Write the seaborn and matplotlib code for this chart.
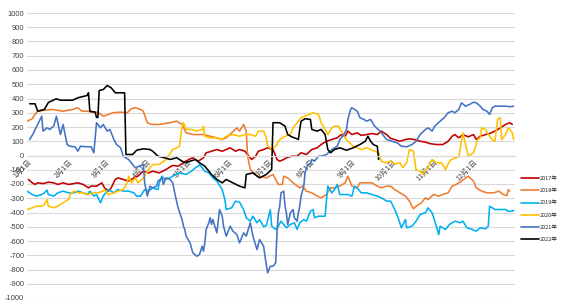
import numpy as np
import pandas as pd
import seaborn as sns
import matplotlib
matplotlib.use("Agg")
import matplotlib.pyplot as plt
from matplotlib.lines import Line2D

# ---------------- data (day of year, value) ----------------
days_2017 = [1,4,6,8,12,16,20,23,27,31,35,38,42,46,48,52,56,58,61,63,66,68,72,76,80,83,87,91,94,99,104,106,109,113,117,121,124,128,132,134,138,142,146,149,152,156,159,163,166,168,171,173,177,180,184,187,189,192,194,198,202,205,209,213,217,220,224,228,232,235,238,240,243,247,250,254,258,262,265,269,272,275,279,283,286,290,294,298,301,306,311,315,318,320,323,326,330,334,336,339,343,346,350,354,358,361,363]
vals_2017 = [-168,-192,-203,-192,-197,-187,-192,-203,-192,-203,-197,-192,-203,-227,-215,-215,-192,-227,-250,-227,-168,-157,-168,-180,-157,-145,-110,-122,-110,-122,-98,-86,-70,-75,-51,-28,-16,-40,-16,19,30,42,30,42,54,30,42,30,-5,-28,-5,30,42,54,42,-28,-40,-28,-16,-5,-5,19,7,42,54,77,100,112,124,147,135,171,147,159,141,147,154,147,171,147,120,112,100,112,117,112,100,94,84,77,77,100,135,147,124,147,131,147,112,135,147,154,171,194,218,230,218]

days_2018 = [0,4,6,8,13,19,27,34,38,41,45,48,53,57,61,64,70,75,78,81,85,87,90,93,99,107,112,116,119,124,132,137,142,146,149,153,157,159,162,164,165,167,172,174,179,184,188,191,192,195,199,204,206,209,213,217,220,224,227,230,234,238,240,243,247,249,254,258,262,265,269,272,275,279,283,286,289,291,295,298,300,304,308,311,315,318,321,325,328,330,334,336,340,344,349,353,356,359,360,361]
vals_2018 = [241,258,288,311,318,323,311,323,335,311,311,304,304,276,288,300,304,300,328,335,323,311,230,218,218,230,241,218,159,147,147,135,124,112,124,159,194,171,218,171,-5,-98,-145,-145,-157,-133,-203,-203,-145,-157,-192,-227,-215,-250,-262,-285,-297,-274,-227,-227,-215,-192,-145,-215,-227,-192,-192,-192,-215,-227,-215,-215,-239,-262,-285,-320,-374,-356,-332,-297,-309,-274,-285,-274,-262,-215,-203,-180,-157,-145,-180,-227,-250,-262,-262,-250,-274,-281,-239,-250]

days_2019 = [0,4,7,11,13,15,16,20,23,27,31,35,38,42,45,47,50,52,55,57,61,65,68,72,76,80,82,85,88,91,94,98,99,101,103,107,109,114,119,123,126,128,129,131,133,136,139,142,146,148,149,153,156,159,162,164,167,169,172,174,177,179,182,183,186,188,190,194,197,200,202,204,207,209,212,214,215,218,223,224,225,228,230,232,234,237,240,243,245,248,250,254,258,262,265,269,272,275,278,280,283,284,288,291,294,298,300,303,305,308,309,313,316,320,324,326,329,333,336,339,343,345,346,348,350,354,358,360,363,364]
vals_2019 = [-250,-274,-285,-274,-262,-243,-274,-285,-262,-250,-262,-262,-250,-262,-274,-250,-285,-274,-332,-285,-239,-262,-239,-250,-250,-262,-285,-285,-239,-250,-227,-239,-192,-145,-168,-157,-145,-122,-133,-110,-86,-75,-63,-86,-110,-122,-157,-180,-239,-309,-379,-367,-320,-328,-379,-437,-461,-426,-472,-450,-500,-490,-380,-496,-519,-496,-461,-507,-484,-472,-519,-472,-449,-461,-391,-379,-437,-426,-426,-309,-215,-262,-239,-203,-274,-274,-274,-285,-215,-239,-262,-262,-274,-285,-297,-320,-320,-379,-449,-507,-449,-507,-496,-461,-414,-402,-367,-402,-461,-555,-496,-519,-484,-461,-472,-461,-507,-519,-531,-507,-515,-496,-356,-367,-379,-379,-379,-391,-391,-384]

days_2020 = [0,4,7,11,13,15,16,20,23,27,31,33,36,38,42,46,50,53,57,58,61,65,68,72,75,76,78,81,83,86,88,91,94,99,104,109,112,114,116,117,119,123,127,131,132,133,137,142,146,149,154,159,163,167,171,173,177,179,180,183,186,189,193,197,199,203,205,209,214,218,220,223,225,228,230,233,235,238,240,244,247,250,254,257,260,263,265,268,272,275,279,281,284,286,289,291,294,296,300,303,306,310,313,316,319,323,326,330,334,337,339,340,343,345,348,350,352,354,355,358,360,363,364]
vals_2020 = [-379,-367,-356,-356,-344,-309,-356,-367,-356,-332,-309,-262,-250,-262,-262,-274,-262,-262,-250,-239,-274,-262,-250,-239,-192,-145,-192,-157,-192,-168,-145,-98,-63,-63,-28,42,54,65,206,230,183,183,171,183,206,135,124,124,112,135,147,135,147,147,135,171,171,124,70,42,65,112,135,147,194,241,265,281,300,288,230,183,147,194,206,206,171,124,100,65,54,42,54,42,30,19,-40,-51,-40,-60,-51,-86,-51,42,30,-100,-110,-133,-80,-28,-51,-51,-98,-40,-20,-10,159,-5,19,112,124,194,183,147,112,100,253,265,112,147,194,159,112]

days_2021 = [2,5,6,8,11,12,15,17,20,22,25,27,30,32,36,38,40,45,48,50,52,55,57,60,62,65,67,70,72,76,81,87,88,90,92,94,97,98,101,102,104,107,109,111,113,116,117,118,119,122,124,127,129,131,132,133,134,136,137,138,139,142,144,146,147,149,152,154,157,159,162,164,167,169,172,174,177,178,180,182,184,186,187,188,189,190,192,193,194,195,197,199,200,202,203,204,205,207,208,210,212,213,215,218,220,224,228,232,234,237,239,240,242,243,247,249,252,254,257,260,264,267,269,273,277,280,284,288,291,294,298,300,303,305,309,312,315,318,320,323,325,328,331,334,336,339,341,344,346,348,350,354,358,361,364]
vals_2021 = [112,159,183,218,276,171,194,183,206,276,147,218,77,65,61,30,65,61,61,19,230,194,218,171,183,112,77,54,-5,-28,-86,-63,-192,-285,-215,-227,-215,-180,-157,-203,-157,-168,-192,-285,-367,-449,-496,-519,-566,-613,-683,-707,-695,-637,-672,-613,-519,-472,-437,-484,-449,-543,-379,-426,-496,-566,-496,-531,-555,-613,-543,-566,-472,-566,-660,-590,-637,-707,-824,-777,-777,-754,-543,-402,-356,-262,-250,-356,-402,-484,-402,-379,-437,-461,-402,-356,-285,-215,-122,-63,-60,-28,-40,-5,-5,7,42,65,112,147,183,253,323,335,311,265,253,241,253,206,171,135,112,100,89,65,61,77,100,147,183,194,171,206,241,265,300,311,300,323,370,346,358,374,370,346,323,311,288,335,346,346,346,342,346]

days_2022 = [2,6,8,13,16,18,22,25,34,38,45,46,47,51,52,53,54,57,60,63,66,70,73,74,79,82,87,92,94,98,103,107,112,114,118,122,126,129,133,138,142,146,149,154,159,163,164,169,174,179,183,184,189,191,193,195,198,202,203,204,205,208,212,213,217,220,223,225,227,230,234,239,244,249,253,255,257,259,262,263]
vals_2022 = [363,363,311,323,372,381,398,388,388,405,421,440,311,304,267,267,456,463,491,475,440,440,440,7,7,37,47,42,30,-5,-16,-28,-16,-28,-51,-40,-28,-51,-75,-133,-168,-192,-168,-192,-215,-227,-133,-122,-157,-133,-98,230,230,218,206,147,131,117,112,183,241,258,253,183,171,183,147,42,19,42,54,37,54,77,100,135,100,77,65,-28]

years = ["2017年", "2018年", "2019年", "2020年", "2021年", "2022年"]
colors = ["#C00000", "#ED7D31", "#00B0F0", "#FFC000", "#4472C4", "#000000"]
month_days = [0, 31, 59, 90, 120, 151, 181, 212, 243, 273, 304, 334]
month_labels = ["1月1日", "2月1日", "3月1日", "4月1日", "5月1日", "6月1日",
                "7月1日", "8月1日", "9月1日", "10月1日", "11月1日", "12月1日"]
y_ticks = list(range(-1000, 1001, 100))

series_days = [days_2017, days_2018, days_2019, days_2020, days_2021, days_2022]
series_vals = [vals_2017, vals_2018, vals_2019, vals_2020, vals_2021, vals_2022]

frames = []
for yr, d, v in zip(years, series_days, series_vals):
    frames.append(pd.DataFrame({"day": d, "value": v, "year": yr}))
df = pd.concat(frames, ignore_index=True)

# ---------------- plot ----------------
sns.set_theme(style="white")
plt.rcParams['font.family'] = ['Liberation Sans', 'Noto Sans CJK SC', 'DejaVu Sans']

fig = plt.figure(figsize=(5.67, 3.06), dpi=100)
ax = fig.add_axes([27/567, 1 - 298/306, (515-27)/567, (298-13)/306])

sns.lineplot(data=df, x="day", y="value", hue="year", palette=colors,
             hue_order=years, linewidth=1.15, ax=ax, legend=False,
             estimator=None, sort=False)

ax.set_xlim(0, 365)
ax.set_ylim(-1000, 1000)
ax.set_yticks(y_ticks)
ax.set_yticklabels([str(t) for t in y_ticks], fontsize=5.4, color="#404040")
ax.yaxis.grid(True, color="#d9d9d9", linewidth=0.8)
ax.set_axisbelow(True)
ax.set_xlabel("")
ax.set_ylabel("")
for s in ["top", "right", "left"]:
    ax.spines[s].set_visible(False)
ax.spines["bottom"].set_position(("data", 0))
ax.spines["bottom"].set_color("#d9d9d9")
ax.spines["bottom"].set_linewidth(0.8)
ax.set_xticks(month_days)
ax.set_xticklabels(month_labels, rotation=45, ha="right", rotation_mode="anchor",
                   fontsize=5.2, color="#404040",
                   family=['Noto Sans CJK SC', 'DejaVu Sans'])
ax.tick_params(axis="both", length=0, pad=2)

handles = [Line2D([0], [0], color=c, lw=1.2) for c in colors]
fig.legend(handles, years, loc="upper left", bbox_to_anchor=(516/567, 1 - 171/306),
           frameon=False, handlelength=3.2, handletextpad=0.2,
           labelspacing=1.3, prop={'family': ['Noto Sans CJK SC', 'DejaVu Sans'], 'size': 4})

fig.savefig("out.png", dpi=100)
